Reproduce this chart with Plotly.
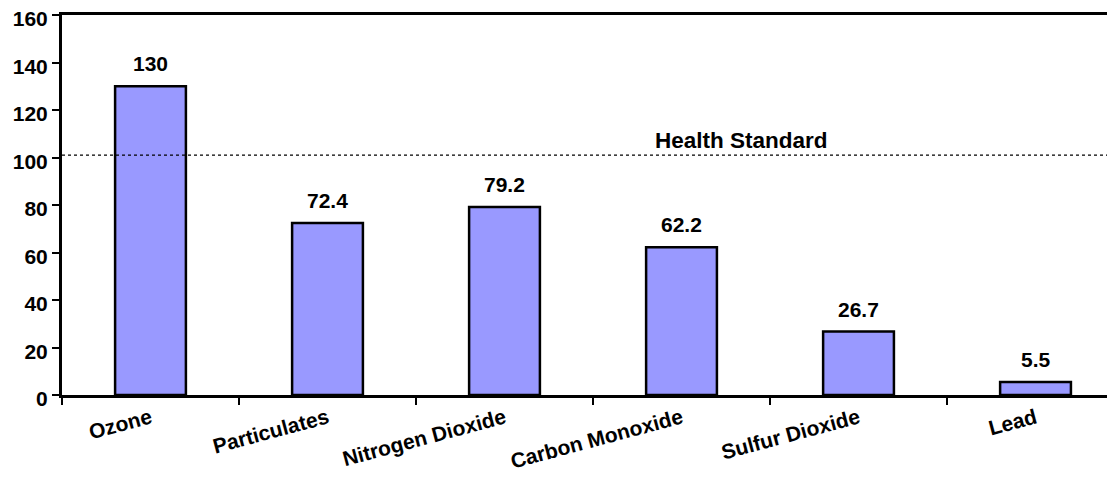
import plotly.graph_objects as go

categories = ["Ozone", "Particulates", "Nitrogen Dioxide", "Carbon Monoxide", "Sulfur Dioxide", "Lead"]
values = [130, 72.4, 79.2, 62.2, 26.7, 5.5]
value_labels = ["130", "72.4", "79.2", "62.2", "26.7", "5.5"]
health_standard = 101
y_ticks = [0, 20, 40, 60, 80, 100, 120, 140, 160]

FONT = "Liberation Sans, Arial, sans-serif"

fig = go.Figure()
fig.add_trace(go.Bar(
    x=categories,
    y=values,
    marker=dict(color="#9999FF", line=dict(color="black", width=2.5)),
    width=0.4,
    hoverinfo="x+y",
))

for c, v, t in zip(categories, values, value_labels):
    fig.add_annotation(x=c, y=v, text=t, showarrow=False, yanchor="bottom", yshift=9,
                       font=dict(family=FONT, size=21, color="black", weight=700))

fig.add_shape(type="line", xref="paper", x0=0, x1=1, yref="y", y0=health_standard, y1=health_standard,
              line=dict(color="black", width=1.2, dash="dot"))
fig.add_annotation(x=3.34, y=health_standard, text="Health Standard", showarrow=False,
                   yanchor="bottom", yshift=0,
                   font=dict(family=FONT, size=22.5, color="black", weight=700))

fig.update_layout(
    width=1107, height=485,
    margin=dict(l=54, r=0, t=7, b=98),
    plot_bgcolor="white", paper_bgcolor="white",
    showlegend=False,
    font=dict(family=FONT, color="black"),
)
fig.update_xaxes(
    type="category",
    automargin=False,
    range=[-0.5, 5.449],
    tickson="boundaries",
    ticks="outside", ticklen=7, tickwidth=2, tickcolor="black",
    showline=True, linecolor="black", linewidth=3, mirror=True,
    showgrid=False,
    tickangle=-15,
    ticklabeloverflow="allow",
    tickfont=dict(family=FONT, size=21, color="black", weight=700),
)
fig.update_yaxes(
    automargin=False,
    range=[0, 160],
    tickvals=y_ticks,
    ticks="outside", ticklen=7, tickwidth=2, tickcolor="black",
    showline=True, linecolor="black", linewidth=3,
    showgrid=False, zeroline=False,
    ticklabeloverflow="allow",
    ticklabelshift=4,
    tickfont=dict(family=FONT, size=21, color="black", weight=700),
)

fig.write_html("out.html")
